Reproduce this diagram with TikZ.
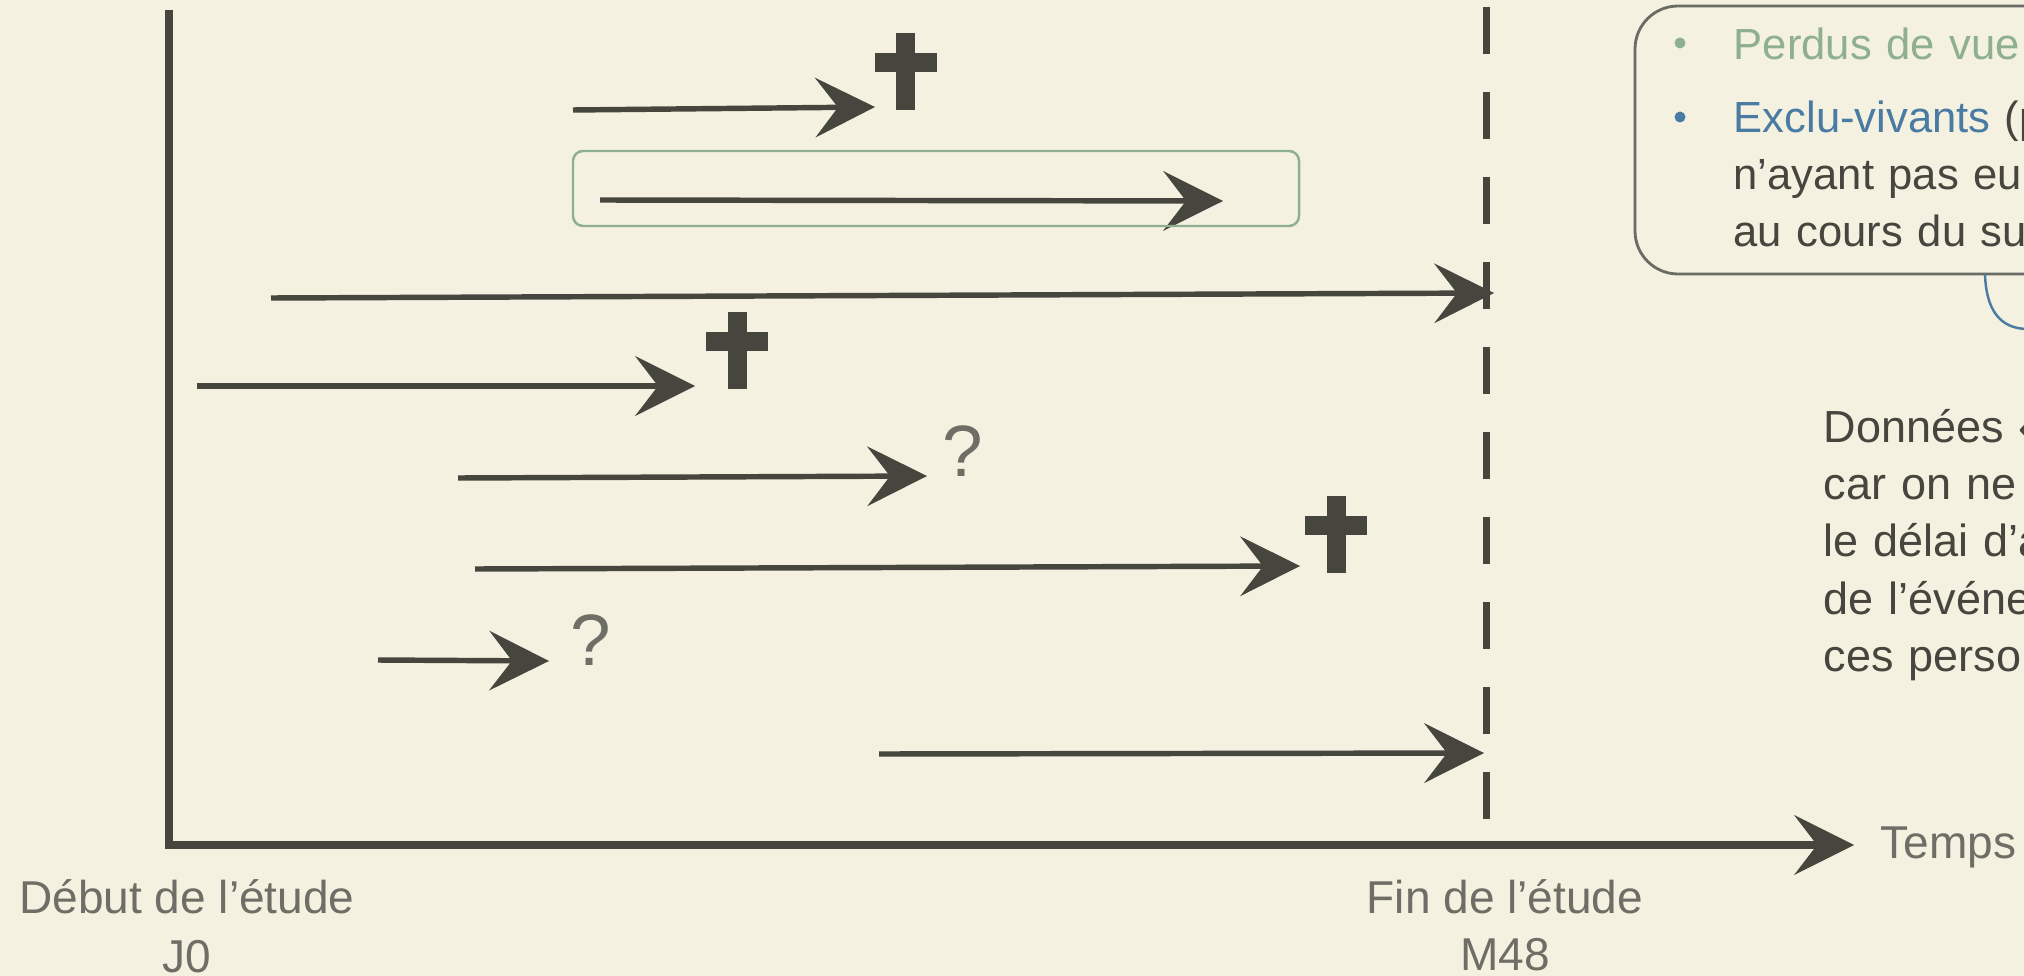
\documentclass[tikz,border=0pt]{standalone}
\usepackage{fontspec}
\setmainfont{Liberation Sans}
\usepackage{xcolor}
\usepackage{tikz}
\usetikzlibrary{positioning, arrows.meta, calc}
\definecolor{fond}{HTML}{F4F1E1}
\definecolor{encre}{HTML}{46463F}
\definecolor{grisclair}{HTML}{6E6E66}
\definecolor{grisbulle}{HTML}{6B6B66}
\definecolor{vertperdu}{HTML}{8FB08F}
\definecolor{bleuexclu}{HTML}{4A7BA2}
\tikzset{
  croix/.pic={
    \fill[encre] (-0.095,0) rectangle (0.095,0.77);
    \fill[encre] (-0.31,0.38) rectangle (0.31,0.57);
  }
}

\begin{document}
\begin{tikzpicture}[
  fleche/.style={-{Stealth[length=6mm, width=6mm, inset=2.3mm, line width=0pt]},
                 line width=1.55pt, draw=encre},
  axe/.style={fleche, line width=2pt},
  limite/.style={draw=encre, line width=2pt, dash pattern=on 0.47cm off 0.38cm},
  cadreperdu/.style={draw=vertperdu, line width=0.7pt, rounded corners=1mm},
  bulle/.style={draw=grisbulle, line width=0.8pt, rounded corners=4.3mm},
  etiquette/.style={text=grisclair, inner sep=0pt, font=\fontsize{13.1}{16.3}\selectfont},
  interro/.style={text=grisclair, inner sep=0pt, font=\fontsize{20.7}{24}\selectfont},
  bulletxt/.style={text=encre, inner sep=0pt, align=left, text width=5cm,
                   font=\fontsize{12.4}{16.2}\selectfont},
  texte/.style={text=encre, inner sep=0pt, align=left, text width=5cm,
                font=\fontsize{12.8}{16.35}\selectfont}
]
  \useasboundingbox (0,0) rectangle (20.24,-9.76);
  \fill[fond] (0,0) rectangle (20.24,-9.76);
  \clip (0,0) rectangle (20.24,-9.76);

  % axes
  \coordinate (haut) at (1.69,-0.10);
  \coordinate (origine) at (1.69,-8.45);
  \coordinate (temps) at (18.54,-8.45);
  \draw[axe] (haut) -- (origine) -- (temps);
  \node[etiquette, anchor=base west] (lbltemps) at (18.80,-8.58) {Temps};

  % fin de l'etude
  \coordinate (finhaut) at (14.86,-0.07);
  \coordinate (finbas) at (14.86,-8.21);
  \draw[limite] (finhaut) -- (finbas);

  \node[etiquette, anchor=base] (debut) at (1.87,-9.13) {Début de l’étude};
  \node[etiquette, anchor=base] (j0) at ([yshift=-0.59cm]debut.base) {J0};
  \node[etiquette, anchor=base] (fin) at (15.05,-9.13) {Fin de l’étude};
  \node[etiquette, anchor=base] (m48) at ([yshift=-0.57cm]fin.base) {M48};

  % suivis des patients
  \coordinate (s1) at (5.73,-1.10);  \coordinate (e1) at (8.75,-1.07);
  \coordinate (s2) at (6.00,-2.00);  \coordinate (e2) at (12.23,-2.01);
  \coordinate (s3) at (2.71,-2.98);  \coordinate (e3) at (14.94,-2.93);
  \coordinate (s4) at (1.97,-3.86);  \coordinate (e4) at (6.95,-3.86);
  \coordinate (s5) at (4.58,-4.78);  \coordinate (e5) at (9.27,-4.76);
  \coordinate (s6) at (4.75,-5.69);  \coordinate (e6) at (13.00,-5.66);
  \coordinate (s7) at (3.78,-6.60);  \coordinate (e7) at (5.49,-6.61);
  \coordinate (s8) at (8.79,-7.54);  \coordinate (e8) at (14.84,-7.53);
  \draw[fleche] (s1) -- (e1);
  \draw[fleche] (s2) -- (e2);
  \draw[fleche] (s3) -- (e3);
  \draw[fleche] (s4) -- (e4);
  \draw[fleche] (s5) -- (e5);
  \draw[fleche] (s6) -- (e6);
  \draw[fleche] (s7) -- (e7);
  \draw[fleche] (s8) -- (e8);

  \draw[cadreperdu] (5.73,-1.51) rectangle (12.99,-2.26);

  \pic (deces1) at (9.055,-1.10) {croix};
  \pic (deces2) at (7.37,-3.89) {croix};
  \pic (deces3) at (13.36,-5.73) {croix};
  \node[interro, anchor=base] (q1) at (9.63,-4.76) {?};
  \node[interro, anchor=base] (q2) at (5.91,-6.65) {?};

  % legende
  \draw[bulle] (16.35,-0.06) rectangle (21.0,-2.74);
  \fill[vertperdu] (16.80,-0.43) circle (0.055);
  \fill[bleuexclu] (16.80,-1.17) circle (0.055);
  \node[bulletxt, text=vertperdu, anchor=base west] (perdus) at (17.33,-0.60) {Perdus de vue};
  \node[bulletxt, anchor=base west] (exclus) at (17.33,-1.33)
    {\textcolor{bleuexclu}{Exclu-vivants} (p\\n’ayant pas eu\\au cours du su};
  \draw[bleuexclu, line width=0.7pt] (19.85,-2.74) .. controls (19.86,-3.10) and (20.00,-3.29) .. (20.28,-3.29) -- (20.40,-3.29);

  \node[texte, anchor=base west] (donnees) at (18.23,-4.42)
    {Données «\\car on ne\\le délai d’a\\de l’événe\\ces person};
\end{tikzpicture}
\end{document}
